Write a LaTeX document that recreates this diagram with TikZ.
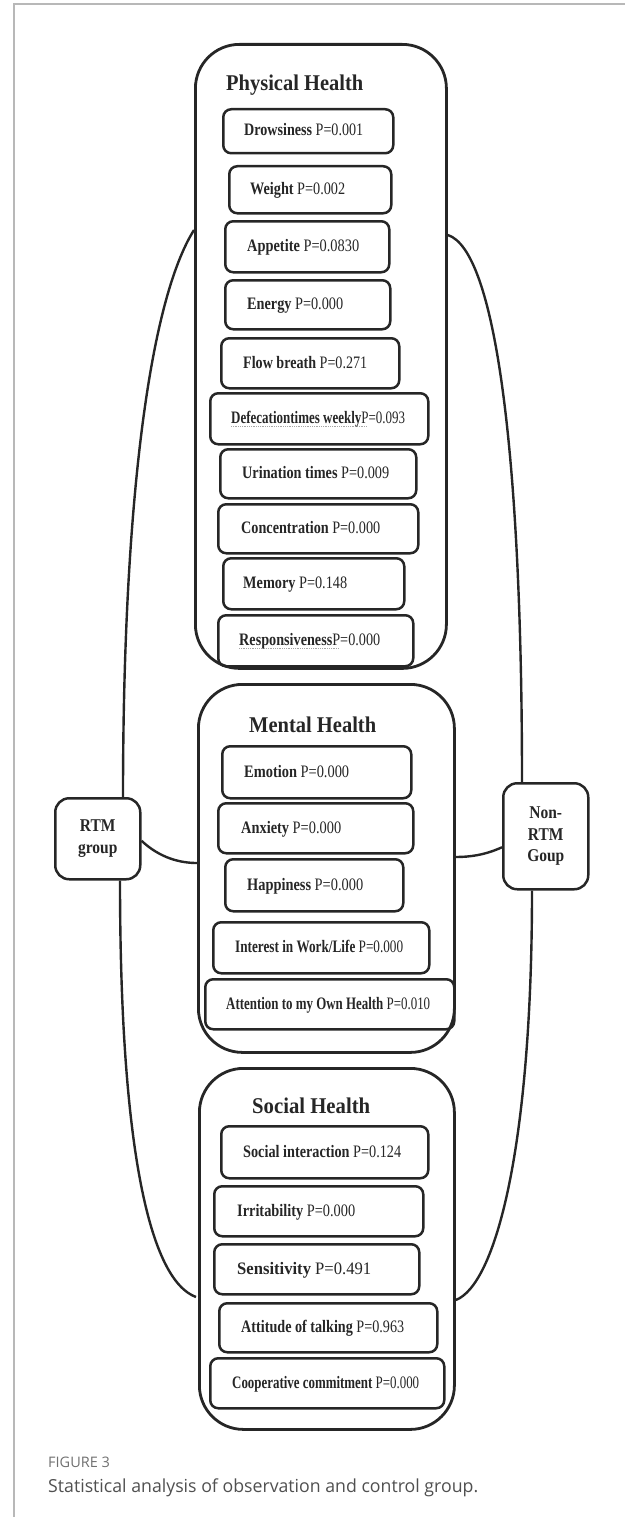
\documentclass[tikz,border=0pt]{standalone}
\usepackage{fontspec}
\setmainfont{Liberation Serif}
\newfontfamily\capfont{Open Sans}
\usepackage{graphicx}
\usetikzlibrary{calc}
\definecolor{ink}{HTML}{262626}
\definecolor{framegray}{HTML}{B8B8B8}
\definecolor{capgray}{HTML}{707070}
\definecolor{captext}{HTML}{505050}

\newcommand\fitw[2]{\resizebox{#1pt}{\height}{#2}}
\newcommand\cnd[1]{\scalebox{0.86}[1]{#1}}

\tikzset{
  grp/.style={draw=ink, line width=2.8pt, rounded corners=44pt, inner sep=0pt, anchor=north west},
  ibox/.style={draw=ink, line width=2.5pt, rounded corners=8pt, inner sep=0pt, anchor=north west},
  gbox/.style={draw=ink, line width=2.5pt, rounded corners=14pt, inner sep=0pt, anchor=north west,
    align=center, text=ink, font=\fontsize{18}{21.5}\selectfont\bfseries},
  itxt/.style={anchor=base west, inner sep=0pt, text=ink, font=\fontsize{17.5}{20}\selectfont},
  ttl/.style={anchor=base west, inner sep=0pt, text=ink, font=\fontsize{22.5}{26}\selectfont\bfseries},
  link/.style={draw=ink, line width=2.4pt},
  spell/.style={draw=gray!70, densely dotted, line width=0.8pt},
}

% name, x1, y1, x2, y2, text left, text width, bold part, regular part
\newcommand\itm[9]{%
  \node[ibox, minimum width={#4-#2}, minimum height={#5-#3}] (#1) at (#2,#3) {};
  \node[itxt] (#1t) at ({#6},{(#3+#5)/2+6}) {\fitw{#7}{\textbf{#8}#9}};
}

\begin{document}
\begin{tikzpicture}[x=1pt, y=-1pt]
\useasboundingbox (0,0) rectangle (625,1517);

% page frame
\draw[framegray, line width=1.8pt] (14,1517) -- (14,4) -- (625,4);

% group containers
\node[grp, minimum width=251, minimum height=624] (phys) at (194,43) {};
\node[grp, minimum width=256, minimum height=368] (ment) at (197,683) {};
\node[grp, minimum width=255, minimum height=361] (soc) at (198,1067) {};

% titles
\node[ttl] (physt) at (226,91) {\fitw{137}{Physical Health}};
\node[ttl] (mentt) at (249,732) {\fitw{127}{Mental Health}};
\node[ttl] (soct) at (252,1113) {\fitw{118}{Social Health}};

% physical items
\itm{drow}{222}{108}{392}{152}{244}{119}{Drowsiness}{~P=0.001}
\itm{weight}{228}{165}{390}{212}{250}{95}{Weight}{~P=0.002}
\itm{appet}{224}{220}{388}{271}{247}{112}{Appetite}{~P=0.0830}
\itm{energy}{224}{279}{389}{328}{247}{96}{Energy}{~P=0.000}
\itm{flow}{220}{337}{398}{387}{243}{124}{Flow breath}{~P=0.271}
\itm{defec}{209}{392}{427}{443}{231}{174}{Defecationtimes weekly}{P=0.093}
\itm{urin}{219}{448}{415}{497}{242}{147}{Urination times}{~P=0.009}
\itm{conc}{217}{503}{417}{552}{241}{139}{Concentration}{~P=0.000}
\itm{mem}{222}{557}{403}{608}{243}{104}{Memory}{~P=0.148}
\itm{resp}{217}{614}{412}{665}{239}{141}{Responsiveness}{P=0.000}

% spell-check underlines
\draw[spell] ([yshift=-3pt]defect.base west) -- ++(136,0);
\draw[spell] ([yshift=-3pt]respt.base west) -- ++(100,0);

% mental items
\itm{emo}{221}{745}{410}{797}{244}{105}{Emotion}{~P=0.000}
\itm{anx}{217}{802}{412}{852}{241}{100}{Anxiety}{~P=0.000}
\itm{hap}{224}{858}{402}{910}{247}{116}{Happiness}{~P=0.000}
\itm{inter}{212}{921}{428}{972}{235}{168}{Interest in Work/Life}{~P=0.000}
\itm{atten}{204}{978}{453}{1028}{226}{204}{Attention to my Own Health}{~P=0.010}

% social items
\itm{sint}{220}{1125}{427}{1177}{243}{158}{Social interaction}{~P=0.124}
\itm{irr}{213}{1185}{422}{1235}{237}{118}{Irritability}{~P=0.000}
\itm{sens}{213}{1243}{418}{1293}{237}{134}{Sensitivity}{~P=0.491}
\itm{talk}{218}{1302}{436}{1351}{241}{163}{Attitude of talking}{~P=0.963}
\itm{coop}{209}{1357}{443}{1407}{232}{187}{Cooperative commitment}{~P=0.000}

% group boxes
\node[gbox, minimum width=85, minimum height=81] (rtm) at (54,797) {\cnd{RTM}\\\cnd{group}};
\node[gbox, minimum width=85, minimum height=106] (nrtm) at (502,782) {\cnd{Non-}\\\cnd{RTM}\\\cnd{Goup}};

% connector end points
\coordinate (pL) at ($(phys.north west)+(0,187)$);
\coordinate (pR) at ($(phys.north east)+(0,192)$);
\coordinate (rT) at ($(rtm.north west)+(69,0)$);
\coordinate (rB) at ($(rtm.south west)+(66,0)$);
\coordinate (rE) at ($(rtm.east)+(0,2)$);
\coordinate (nT) at ($(nrtm.north west)+(20,0)$);
\coordinate (nB) at ($(nrtm.south west)+(30,0)$);
\coordinate (nW) at ($(nrtm.west)+(0,11)$);
\coordinate (mL) at ($(ment.north west)+(0,180)$);
\coordinate (mR) at ($(ment.north east)+(0,174)$);
\coordinate (sL) at ($(soc.north west)+(-2,230)$);
\coordinate (sR) at ($(soc.north east)+(0,233)$);

% connectors
\draw[link] (pL) .. controls (150,300) and (123,500) .. (rT);
\draw[link] (rB) .. controls (120,1150) and (150,1280) .. (sL);
\draw[link] (rE) .. controls (160,858) and (180,863) .. (mL);
\draw[link] (pR) .. controls (495,250) and (522,450) .. (nT);
\draw[link] (nB) .. controls (532,1150) and (495,1285) .. (sR);
\draw[link] (nW) .. controls (485,855) and (470,857) .. (mR);

% caption
\node[anchor=base west, inner sep=0pt, text=capgray, font=\capfont\fontsize{14.5}{16}\selectfont] (figno) at (48,1467) {FIGURE 3};
\node[anchor=base west, inner sep=0pt, text=captext, font=\capfont\fontsize{18}{20}\selectfont] (caption) at (48,1492) {\fitw{430}{Statistical analysis of observation and control group.}};
\end{tikzpicture}
\end{document}
